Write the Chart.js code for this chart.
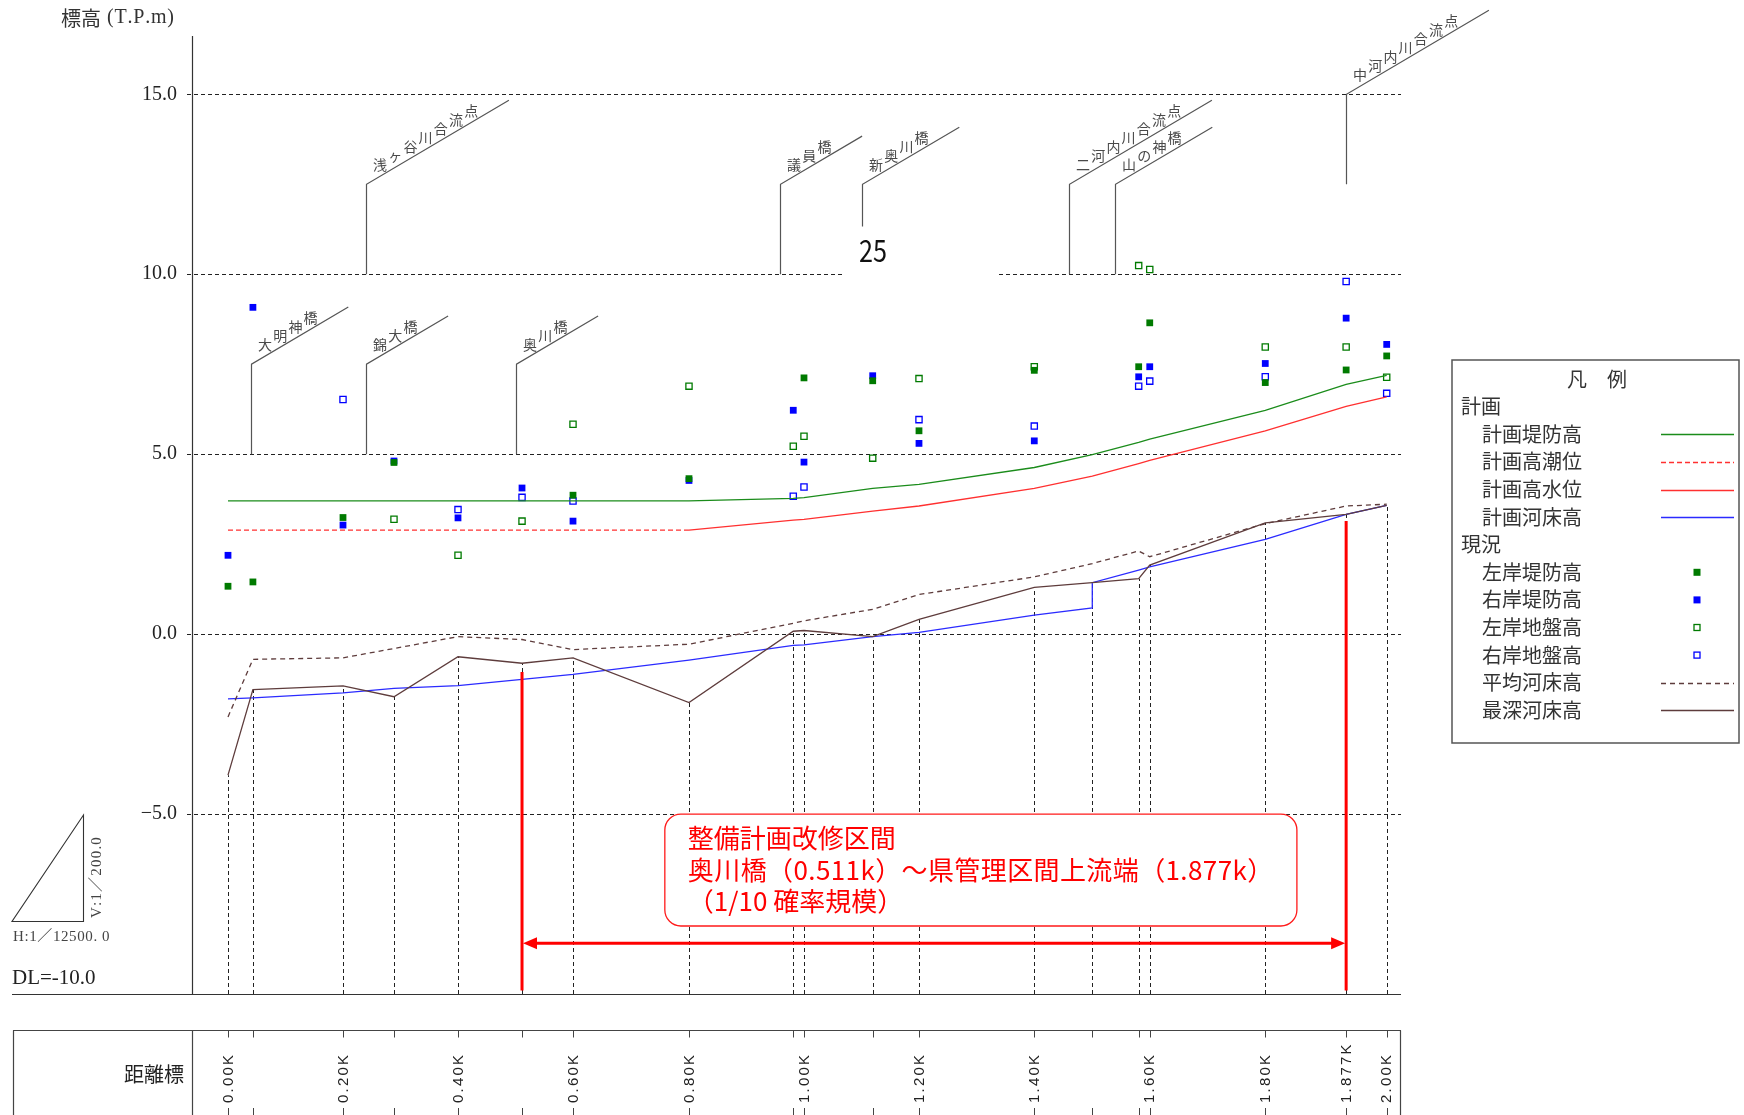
<!DOCTYPE html>
<html>
<head>
<meta charset="utf-8">
<title>縦断図</title>
<script src="https://cdn.jsdelivr.net/npm/chart.js@4/dist/chart.umd.min.js"></script>
<style>
  html, body { margin: 0; padding: 0; background: #fff; overflow: hidden; }
  canvas { display: block; }
</style>
</head>
<body>
<canvas id="profile" width="1744" height="1115" style="width:1744px;height:1115px"></canvas>
<script>
// ---- 断面位置 (drawing distance, km) ----
const stations = [0.000, 0.043, 0.1985, 0.2865, 0.397, 0.5075, 0.5955, 0.7957, 0.9757, 0.9942,
                  1.1128, 1.1927, 1.3917, 1.4918, 1.5719, 1.591, 1.7904, 1.930, 2.000];
const stationLabels = ['0.00K', '', '0.20K', '', '0.40K', '', '0.60K', '0.80K', '', '1.00K',
                       '', '1.20K', '1.40K', '', '', '1.60K', '1.80K', '1.877K', '2.00K'];

// ---- 計画 ----
const planLevee = [3.70, 3.70, 3.70, 3.70, 3.70, 3.70, 3.70, 3.70, 3.77, 3.79,
                   4.05, 4.16, 4.63, 4.99, 5.33, 5.42, 6.22, 6.94, 7.19];
const planTide  = [2.89, 2.89, 2.89, 2.89, 2.89, 2.89, 2.89, 2.89, null, null,
                   null, null, null, null, null, null, null, null, null];
const planHWL   = [null, null, null, null, null, null, null, 2.89, 3.17, 3.19,
                   3.42, 3.56, 4.05, 4.39, 4.74, 4.83, 5.65, 6.33, 6.59];
// the bed steps up at 1.49 km: [downstream, upstream]
const planBed   = [-1.80, -1.77, -1.63, -1.51, -1.43, -1.26, -1.12, -0.72, -0.31, -0.30,
                   -0.07, 0.05, 0.53, [0.73, 1.43], 1.78, 1.87, 2.63, 3.33, 3.58];

// ---- 現況 ----
const leftLevee   = [1.33, 1.45, 3.24, 4.77, null, null, 3.86, 4.32, null, 7.12,
                     7.04, 5.65, 7.33, null, 7.43, 8.65, 6.99, 7.34, 7.73];
const rightLevee  = [2.19, 9.08, 3.03, 4.81, 3.23, 4.06, 3.14, 4.27, 6.22, 4.78,
                     7.18, 5.30, 5.37, null, 7.15, 7.43, 7.52, 8.78, 8.05];
const leftGround  = [null, null, null, 3.19, 2.19, 3.14, 5.83, 6.89, 5.22, 5.50,
                     4.89, 7.10, 7.43, null, 10.24, 10.13, 7.98, 7.98, 7.14];
const rightGround = [null, null, 6.52, null, 3.46, 3.80, 3.70, null, 3.83, 4.09,
                     null, 5.96, 5.78, null, 6.89, 7.03, 7.15, 9.80, 6.69];
const avgBed      = [-2.30, -0.70, -0.66, -0.40, -0.07, -0.15, -0.43, -0.28, 0.30, 0.37,
                     0.69, 1.10, 1.59, 1.96, 2.31, 2.15, 3.07, 3.56, 3.61];
const deepBed     = [-3.92, -1.54, -1.44, -1.74, -0.63, -0.81, -0.66, -1.90, 0.08, 0.10,
                     -0.07, 0.41, 1.30, 1.43, 1.54, 1.92, 3.09, 3.33, 3.58];

// ---- 縦軸 ----
const yTicks = [15, 10, 5, 0, -5];
const yTickLabels = ['15.0', '10.0', '5.0', '0.0', '−5.0'];

// ---- 橋梁・合流点 ----
const landmarkNames = ['大明神橋', '錦大橋', '浅ヶ谷川合流点', '奥川橋', '議員橋', '新奥川橋', '二河内川合流点', '山の神橋', '中河内川合流点'];
const landmarkKm    = [0.039, 0.238, 0.238, 0.497, 0.952, 1.094, 1.452, 1.531, 1.929];
const landmarkBase  = [5, 5, 10, 5, 10, 11.33, 10, 10, 12.5];
const landmarkBend  = [7.5, 7.5, 12.5, 7.5, 12.5, 12.5, 12.5, 12.5, 15];

// ---- 整備計画改修区間 ----
const noteLines = ['整備計画改修区間', '奥川橋（0.511k）～県管理区間上流端（1.877k）', '（1/10 確率規模）'];
const sectionFrom = 5;   // index of station at 奥川橋 (0.511k)
const sectionTo = 17;    // index of station 1.877K

const GREEN = '#1b8c1b', GREEN_PT = '#007a00';
const BLUE = '#2b2bff', BLUE_PT = '#0000ff';
const RED = '#ff3030', BROWN = '#5e3c3c';

function pts(vals) {
  return stations.flatMap((s, i) => {
    const v = vals[i];
    if (Array.isArray(v)) return v.map(y => ({ x: s, y }));
    return [{ x: s, y: v }];
  });
}

function lineSet(label, vals, color, dash) {
  return { type: 'line', label, data: pts(vals), borderColor: color, backgroundColor: color,
           borderWidth: 1.3, borderDash: dash || [], pointRadius: 0, tension: 0, fill: false, spanGaps: false };
}
function markSet(label, vals, color, hollow) {
  return { type: 'scatter', label, data: pts(vals).filter(p => p.y !== null),
           pointStyle: 'rect', pointRadius: hollow ? 4.4 : 4.8,
           backgroundColor: hollow ? '#ffffff' : color, borderColor: color,
           borderWidth: hollow ? 1.3 : 0 };
}

function seg(ctx, x1, y1, x2, y2) {
  ctx.beginPath(); ctx.moveTo(x1, y1); ctx.lineTo(x2, y2); ctx.stroke();
}
function spaced(ctx, str, x, y, gap) {
  let cx = x;
  for (const ch of str) { ctx.fillText(ch, cx, y); cx += ctx.measureText(ch).width + gap; }
}

const CJK = '"Noto Sans CJK JP", sans-serif';
const SERIF = '"Liberation Serif", "DejaVu Serif", "Noto Sans CJK JP", serif';

const profilePlugin = {
  id: 'profile',
  beforeDatasetsDraw(chart) {
    const { ctx, chartArea: ca, scales: { x, y } } = chart;
    ctx.save();
    ctx.strokeStyle = '#222';
    ctx.lineWidth = 1;
    ctx.setLineDash([4, 3]);
    yTicks.forEach(t => {
      const py = Math.round(y.getPixelForValue(t)) + 0.5;
      seg(ctx, ca.left - 5, py, ca.right, py);
    });
    stations.forEach((s, i) => {
      const px = Math.round(x.getPixelForValue(s)) + 0.5;
      seg(ctx, px, ca.bottom, px, y.getPixelForValue(deepBed[i]));
    });
    ctx.setLineDash([]);

    // plate under the sheet number
    ctx.fillStyle = '#fff';
    ctx.fillRect(845, 229, 153, 52);

    // landmark leaders with names along the slant
    ctx.strokeStyle = '#555';
    ctx.lineWidth = 1.2;
    ctx.fillStyle = '#4a4a4a';
    ctx.font = '14px ' + CJK;
    ctx.textAlign = 'center';
    ctx.textBaseline = 'middle';
    landmarkNames.forEach((name, i) => {
      const px = Math.round(x.getPixelForValue(landmarkKm[i])) + 0.5;
      const yb = y.getPixelForValue(landmarkBase[i]);
      const yt = y.getPixelForValue(landmarkBend[i]);
      const n = [...name].length;
      const len = 36 + 15.2 * n;
      ctx.beginPath();
      ctx.moveTo(px, yb); ctx.lineTo(px, yt); ctx.lineTo(px + len, yt - 0.59 * len);
      ctx.stroke();
      [...name].forEach((ch, k) => {
        ctx.fillText(ch, px + 13.5 + 15.2 * k, yt - 20 - 8.97 * k);
      });
    });
    ctx.restore();
  },
  afterDatasetsDraw(chart) {
    const { ctx, chartArea: ca, scales: { x, y } } = chart;
    ctx.save();

    // axes
    ctx.strokeStyle = '#333';
    ctx.lineWidth = 1.2;
    seg(ctx, ca.left + 0.5, ca.top, ca.left + 0.5, ca.bottom);
    seg(ctx, 12, ca.bottom + 0.5, ca.right, ca.bottom + 0.5);

    // y tick labels & title
    ctx.fillStyle = '#222';
    ctx.font = '20px ' + SERIF;
    ctx.textAlign = 'right';
    ctx.textBaseline = 'middle';
    yTicks.forEach((t, i) => ctx.fillText(yTickLabels[i], 177, y.getPixelForValue(t)));
    ctx.textAlign = 'left';
    ctx.fillStyle = '#333';
    ctx.font = '20px ' + CJK;
    ctx.fillText('標高', 61, 18);
    ctx.font = '20px ' + SERIF;
    spaced(ctx, '(T.P.m)', 107, 18, 0.8);

    // improvement section note
    const bx1 = x.getPixelForValue(0.754), bx2 = x.getPixelForValue(1.845);
    const by1 = y.getPixelForValue(-5.0), by2 = y.getPixelForValue(-8.11);
    ctx.beginPath();
    ctx.roundRect(bx1, by1, bx2 - bx1, by2 - by1, 16);
    ctx.fillStyle = '#fff';
    ctx.fill();
    ctx.strokeStyle = '#ff1a1a';
    ctx.lineWidth = 1.3;
    ctx.stroke();
    ctx.fillStyle = '#ff0000';
    ctx.font = '26px ' + CJK;
    ctx.textAlign = 'left';
    ctx.fillText(noteLines[0], bx1 + 23, by1 + 24);
    spaced(ctx, noteLines[1], bx1 + 23, by1 + 56, 0.4);
    ctx.fillText(noteLines[2], bx1 + 23, by1 + 87);

    // section arrows
    const ax1 = x.getPixelForValue(stations[sectionFrom]);
    const ax2 = x.getPixelForValue(stations[sectionTo]);
    const ay = y.getPixelForValue(-8.59);
    ctx.strokeStyle = '#ff0000';
    ctx.fillStyle = '#ff0000';
    ctx.lineWidth = 3;
    seg(ctx, ax1, y.getPixelForValue(-1.05), ax1, y.getPixelForValue(-9.9));
    seg(ctx, ax2, y.getPixelForValue(3.14), ax2, y.getPixelForValue(-9.9));
    seg(ctx, ax1 + 10, ay, ax2 - 10, ay);
    ctx.beginPath();
    ctx.moveTo(ax1 + 1, ay); ctx.lineTo(ax1 + 15, ay - 6); ctx.lineTo(ax1 + 15, ay + 6); ctx.closePath(); ctx.fill();
    ctx.beginPath();
    ctx.moveTo(ax2 - 1, ay); ctx.lineTo(ax2 - 15, ay - 6); ctx.lineTo(ax2 - 15, ay + 6); ctx.closePath(); ctx.fill();

    // distance table
    const tTop = 1030.5;
    ctx.strokeStyle = '#444';
    ctx.lineWidth = 1.2;
    seg(ctx, 13, tTop, ca.right, tTop);
    seg(ctx, 13.5, tTop, 13.5, 1115);
    seg(ctx, ca.left + 0.5, tTop, ca.left + 0.5, 1115);
    seg(ctx, ca.right - 0.5, tTop, ca.right - 0.5, 1115);
    ctx.lineWidth = 1;
    stations.forEach(s => {
      const px = Math.round(x.getPixelForValue(s)) + 0.5;
      seg(ctx, px, tTop, px, tTop + 7);
      seg(ctx, px, 1108, px, 1115);
    });
    ctx.fillStyle = '#222';
    ctx.font = '20px ' + CJK;
    ctx.textAlign = 'center';
    ctx.fillText('距離標', 154, 1074);
    ctx.font = '15px "Liberation Sans", Arial, sans-serif';
    ctx.textAlign = 'left';
    stations.forEach((s, i) => {
      if (!stationLabels[i]) return;
      ctx.save();
      ctx.translate(x.getPixelForValue(s) + 0.5, 1103);
      ctx.rotate(-Math.PI / 2);
      spaced(ctx, stationLabels[i], 0, 0, 2.2);
      ctx.restore();
    });

    // legend
    ctx.strokeStyle = '#555';
    ctx.lineWidth = 1.5;
    ctx.strokeRect(1452, 360, 287, 383);
    ctx.fillStyle = '#333';
    ctx.font = '20px ' + CJK;
    ctx.textAlign = 'center';
    ctx.fillText('凡　例', 1597, 379);
    ctx.textAlign = 'left';
    const byLabel = {};
    chart.data.datasets.forEach(d => { byLabel[d.label] = d; });
    const rows = ['#計画', '計画堤防高', '計画高潮位', '計画高水位', '計画河床高',
                  '#現況', '左岸堤防高', '右岸堤防高', '左岸地盤高', '右岸地盤高', '平均河床高', '最深河床高'];
    rows.forEach((r, i) => {
      const ry = 406.7 + 27.6 * i;
      if (r[0] === '#') { ctx.fillStyle = '#333'; ctx.fillText(r.slice(1), 1461, ry); return; }
      ctx.fillStyle = '#333';
      ctx.fillText(r, 1482, ry);
      const d = byLabel[r];
      if (d.type === 'line') {
        ctx.strokeStyle = d.borderColor;
        ctx.lineWidth = 1.3;
        ctx.setLineDash(d.borderDash);
        seg(ctx, 1661, Math.round(ry) + 0.5, 1734, Math.round(ry) + 0.5);
        ctx.setLineDash([]);
      } else if (d.borderWidth) {
        ctx.fillStyle = '#fff';
        ctx.strokeStyle = d.borderColor;
        ctx.lineWidth = 1.3;
        ctx.fillRect(1694, ry - 3, 6, 6);
        ctx.strokeRect(1694, ry - 3, 6, 6);
      } else {
        ctx.fillStyle = d.backgroundColor;
        ctx.fillRect(1693.5, ry - 3.5, 7, 7);
      }
    });

    // scale triangle
    ctx.strokeStyle = '#333';
    ctx.lineWidth = 1.1;
    ctx.beginPath();
    ctx.moveTo(12, 921.5); ctx.lineTo(83.5, 921.5); ctx.lineTo(83.5, 815); ctx.closePath();
    ctx.stroke();
    ctx.fillStyle = '#444';
    ctx.font = '15px ' + SERIF;
    ctx.textBaseline = 'middle';
    spaced(ctx, 'H:1／12500. 0', 13, 937, 0.6);
    ctx.save();
    ctx.translate(97, 918);
    ctx.rotate(-Math.PI / 2);
    spaced(ctx, 'V:1／200.0', 0, 0, 1.2);
    ctx.restore();
    ctx.fillStyle = '#222';
    ctx.font = '21px ' + SERIF;
    ctx.fillText('DL=-10.0', 12, 978);

    // sheet number
    ctx.save();
    ctx.fillStyle = '#111';
    ctx.font = '30px ' + CJK;
    ctx.textAlign = 'center';
    ctx.translate(873, 251);
    ctx.scale(0.84, 1);
    ctx.fillText('25', 0, 0);
    ctx.restore();

    ctx.restore();
  }
};

new Chart(document.getElementById('profile'), {
  data: {
    datasets: [
      lineSet('平均河床高', avgBed, BROWN, [5, 4]),
      lineSet('最深河床高', deepBed, BROWN),
      lineSet('計画河床高', planBed, BLUE),
      lineSet('計画高水位', planHWL, RED),
      lineSet('計画高潮位', planTide, RED, [5, 3]),
      lineSet('計画堤防高', planLevee, GREEN),
      markSet('左岸堤防高', leftLevee, GREEN_PT, false),
      markSet('右岸堤防高', rightLevee, BLUE_PT, false),
      markSet('左岸地盤高', leftGround, GREEN_PT, true),
      markSet('右岸地盤高', rightGround, BLUE_PT, true)
    ]
  },
  options: {
    responsive: false,
    animation: false,
    devicePixelRatio: 1,
    events: [],
    layout: { padding: { left: 192, top: 36, right: 343, bottom: 121 } },
    plugins: { legend: { display: false }, tooltip: { enabled: false } },
    scales: {
      x: { type: 'linear', min: -0.06214, max: 2.02468, display: false },
      y: { type: 'linear', min: -10, max: 16.62, display: false }
    }
  },
  plugins: [profilePlugin]
});
</script>
</body>
</html>
